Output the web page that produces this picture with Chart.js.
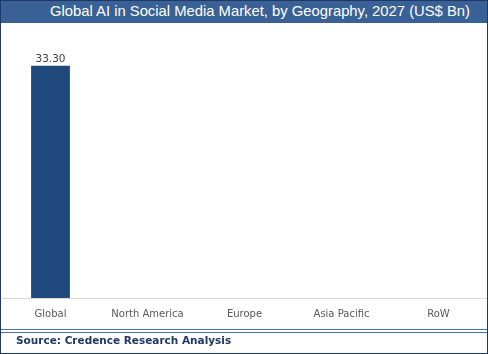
<!DOCTYPE html>
<html>
<head>
<meta charset="utf-8">
<script src="https://cdn.jsdelivr.net/npm/chart.js@4/dist/chart.umd.min.js"></script>
<style>
  html, body { margin: 0; padding: 0; background: #fff; }
  #frame { position: relative; width: 486px; height: 352px; border: 1px solid #203864; overflow: hidden; background: #fff; }
  #title { position: absolute; left: 0; top: 0; width: 486px; height: 22px; background: #3a6195; }
  #title span { position: absolute; right: 17px; top: 2px; color: #fff; font: 14.8px "Liberation Sans", Arial, sans-serif; white-space: nowrap; }
  #wrap { position: absolute; left: 0; top: 22px; width: 486px; height: 307px; }
  #rule1 { position: absolute; left: 0; top: 328px; width: 486px; height: 1px; background: #4a72a8; }
  #rule2 { position: absolute; left: 0; top: 331px; width: 486px; height: 1px; background: #4a72a8; }
  #source { position: absolute; left: 15px; top: 333px; color: #1f3864; font: bold 10.5px "DejaVu Sans", Verdana, sans-serif; white-space: nowrap; }
</style>
</head>
<body>
<div id="frame">
  <div id="title"><span>Global AI in Social Media Market, by Geography, 2027 (US$ Bn)</span></div>
  <div id="wrap"><canvas id="c"></canvas></div>
  <div id="rule1"></div>
  <div id="rule2"></div>
  <div id="source">Source: Credence Research Analysis</div>
</div>
<script>
const categories = ["Global", "North America", "Europe", "Asia Pacific", "RoW"];
const marketValues = [33.30, 0, 0, 0, 0];
const yMax = 36;

const valueLabels = {
  id: 'valueLabels',
  afterDatasetsDraw(chart) {
    const ctx = chart.ctx;
    const meta = chart.getDatasetMeta(0);
    ctx.save();
    ctx.font = '10.5px "DejaVu Sans", Tahoma, sans-serif';
    ctx.fillStyle = '#404040';
    ctx.textAlign = 'center';
    ctx.textBaseline = 'bottom';
    meta.data.forEach((bar, i) => {
      const v = chart.data.datasets[0].data[i];
      if (v) ctx.fillText(v.toFixed(2), bar.x, bar.y - 1);
    });
    ctx.restore();
  }
};

new Chart(document.getElementById('c'), {
  type: 'bar',
  data: {
    labels: categories,
    datasets: [{
      data: marketValues,
      backgroundColor: '#1f497d',
      barPercentage: 0.4,
      categoryPercentage: 1.0
    }]
  },
  options: {
    responsive: true,
    maintainAspectRatio: false,
    animation: false,
    layout: { padding: { top: 24, left: 1, right: 0, bottom: 0 } },
    plugins: { legend: { display: false }, tooltip: { enabled: false } },
    scales: {
      x: {
        grid: { display: false, drawTicks: false },
        border: { display: true, color: '#d9d9d9', width: 1 },
        ticks: { color: '#595959', font: { family: '"DejaVu Sans", Tahoma, sans-serif', size: 10 }, padding: 10, maxRotation: 0, autoSkip: false }
      },
      y: {
        display: false,
        min: 0,
        max: yMax
      }
    }
  },
  plugins: [valueLabels]
});
</script>
</body>
</html>
